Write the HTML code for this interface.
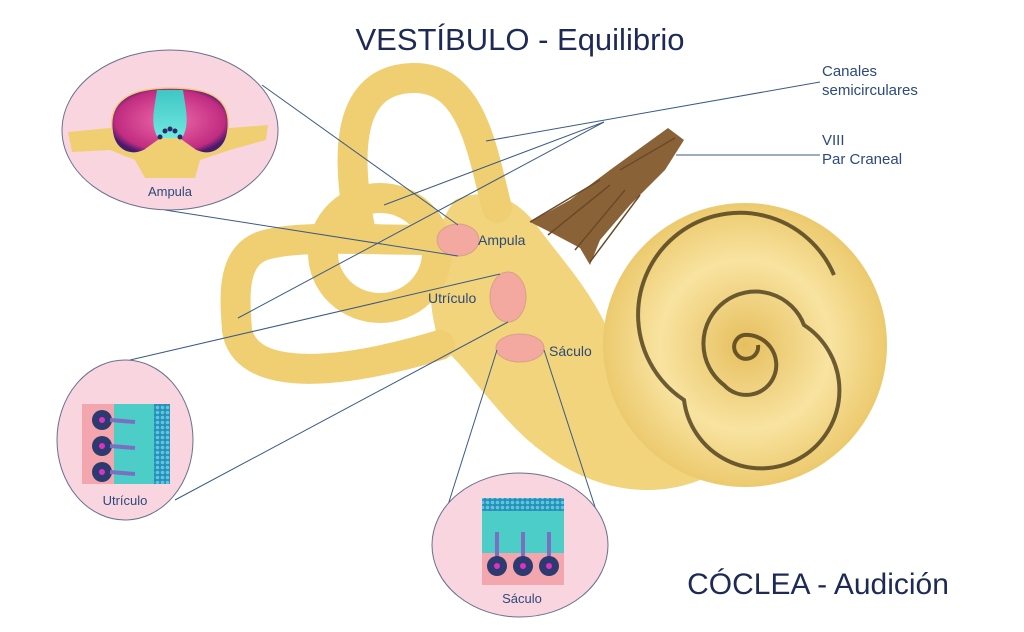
<!DOCTYPE html>
<html><head><meta charset="utf-8"><style>
html,body{margin:0;padding:0;background:#fff;}
svg{display:block}
text{font-family:"Liberation Sans",sans-serif;}
</style></head><body>
<svg width="1024" height="632" viewBox="0 0 1024 632" xmlns="http://www.w3.org/2000/svg">
<defs>
<radialGradient id="co" cx="50%" cy="50%" r="50%"><stop offset="0" stop-color="#e6bf5e"/><stop offset="0.6" stop-color="#f8e3a0"/><stop offset="1" stop-color="#ecca6e"/></radialGradient>
<radialGradient id="mg" cx="50%" cy="50%" r="55%"><stop offset="0.3" stop-color="#e0559c"/><stop offset="0.85" stop-color="#c02c80"/><stop offset="1" stop-color="#4a1a6a"/></radialGradient>
<linearGradient id="cy" x1="0" y1="0" x2="0" y2="1"><stop offset="0" stop-color="#3fc6c4"/><stop offset="1" stop-color="#6fe8e0"/></linearGradient>
<pattern id="dots" width="5" height="5" patternUnits="userSpaceOnUse"><rect width="5" height="5" fill="#2a8fb8"/><circle cx="2.5" cy="2.5" r="1.8" fill="#5cc8e0"/></pattern>
</defs>
<text x="520" y="50" text-anchor="middle" font-size="31" fill="#1c2a55">VESTÍBULO - Equilibrio</text>
<text x="818" y="594" text-anchor="middle" font-size="30" fill="#1c2a55">CÓCLEA - Audición</text>

<path d="M455 200 C490 185 520 200 540 230 C570 270 600 300 620 360 L700 480 C650 500 590 490 540 450 C500 420 470 370 440 345 C425 300 425 240 455 200Z" fill="#f2d47c"/>
<circle cx="745" cy="345" r="142" fill="url(#co)"/>
<path d="M758 345 a12 12 0 1 1 -14 -10 a30 30 0 1 1 -20 50 a52 52 0 1 1 80 -60 a78 78 0 1 1 -120 75 a102 102 0 1 1 150 -125" fill="none" stroke="#3e2f12" stroke-width="4" opacity="0.75"/>
<g fill="none" stroke="#f0cf72" stroke-linecap="round">
<path d="M440 240 C360 240 300 235 265 245 C230 255 235 300 237 330 C245 380 330 378 440 345" stroke-width="30"/>
<ellipse cx="380" cy="253" rx="57" ry="55" stroke-width="30"/>
<path d="M360 228 C345 150 348 80 412 78 C472 76 482 150 497 208" stroke-width="30"/>
</g>
<path d="M668 128 L684 140 L665 170 L630 205 L600 240 L590 265 L580 248 L565 240 L550 232 L530 222 L570 200 L610 170Z" fill="#8a6238"/>
<path d="M530 222 L600 180 M548 235 L610 185 M575 250 L625 190 M590 262 L640 195 M620 170 L675 138" stroke="#6b4a28" stroke-width="1.5" fill="none"/>
<ellipse cx="458" cy="240" rx="21" ry="16" fill="#f4a9a0" stroke="#d8a08a"/>
<ellipse cx="508" cy="297" rx="18" ry="25" fill="#f4a9a0" stroke="#d8a08a"/>
<ellipse cx="520" cy="348" rx="24" ry="14" fill="#f4a9a0" stroke="#d8a08a"/>
<g font-size="14" fill="#2c4a7a">
<text x="478" y="245">Ampula</text>
<text x="428" y="303">Utrículo</text>
<text x="549" y="356">Sáculo</text>
</g>
<g stroke="#3c5a86" stroke-width="1" fill="none">
<line x1="486" y1="141" x2="820" y2="82"/>
<line x1="604" y1="122" x2="384" y2="205"/>
<line x1="604" y1="122" x2="238" y2="318"/>
<line x1="676" y1="155" x2="820" y2="155"/>
<line x1="262" y1="85" x2="458" y2="225"/>
<line x1="165" y1="210" x2="458" y2="256"/>
<line x1="130" y1="360" x2="500" y2="274"/>
<line x1="175" y1="500" x2="508" y2="322"/>
<line x1="448" y1="505" x2="497" y2="350"/>
<line x1="596" y1="510" x2="544" y2="350"/>
</g>
<g font-size="15" fill="#2c4a7a">
<text x="822" y="76">Canales</text><text x="822" y="95">semicirculares</text>
<text x="822" y="145">VIII</text><text x="822" y="164">Par Craneal</text>
</g>
<ellipse cx="170" cy="130" rx="108" ry="80" fill="#f9d5df" stroke="#6a7090"/>
<path d="M68 132 L110 128 L230 128 L268 125 L266 140 L230 150 L200 160 L195 178 L145 178 L135 160 L110 150 L72 152Z" fill="#f0cf72"/>
<path d="M112 130 C108 95 140 88 170 88 C205 88 232 95 228 130 C226 150 210 158 195 150 L170 132 L145 150 C130 158 114 150 112 130Z" fill="url(#mg)" stroke="#e8d080" stroke-width="1.5"/>
<path d="M157 90 L183 90 C186 110 190 125 182 138 L158 138 C150 125 154 110 157 90Z" fill="url(#cy)"/>
<g fill="#2c2a6a"><circle cx="160" cy="137" r="2.5"/><circle cx="165" cy="131" r="2.5"/><circle cx="170" cy="129" r="2.5"/><circle cx="175" cy="131" r="2.5"/><circle cx="180" cy="137" r="2.5"/></g>
<text x="170" y="196" text-anchor="middle" font-size="13" fill="#2c4a7a">Ampula</text>
<ellipse cx="125" cy="440" rx="68" ry="80" fill="#f9d5df" stroke="#6a7090"/>
<rect x="82" y="404" width="34" height="80" fill="#f4a6ae"/>
<rect x="114" y="404" width="42" height="80" fill="#4ccdc8"/>
<rect x="154" y="404" width="16" height="80" fill="url(#dots)"/>
<g><circle cx="102" cy="420" r="10" fill="#2c3a70"/><circle cx="102" cy="446" r="10" fill="#2c3a70"/><circle cx="102" cy="472" r="10" fill="#2c3a70"/>
<circle cx="102" cy="420" r="3" fill="#e030c0"/><circle cx="102" cy="446" r="3" fill="#e030c0"/><circle cx="102" cy="472" r="3" fill="#e030c0"/></g>
<g stroke="#7a70c0" stroke-width="4"><line x1="110" y1="420" x2="135" y2="422"/><line x1="110" y1="446" x2="135" y2="448"/><line x1="110" y1="472" x2="135" y2="474"/></g>
<text x="125" y="505" text-anchor="middle" font-size="13" fill="#2c4a7a">Utrículo</text>
<ellipse cx="520" cy="545" rx="88" ry="72" fill="#f9d5df" stroke="#6a7090"/>
<rect x="482" y="510" width="82" height="44" fill="#4ccdc8"/>
<rect x="482" y="498" width="82" height="13" fill="url(#dots)"/>
<rect x="482" y="553" width="82" height="32" fill="#f4a6ae"/>
<g stroke="#7a70c0" stroke-width="4"><line x1="497" y1="532" x2="497" y2="558"/><line x1="523" y1="532" x2="523" y2="558"/><line x1="549" y1="532" x2="549" y2="558"/></g>
<g><circle cx="497" cy="566" r="10" fill="#2c3a70"/><circle cx="523" cy="566" r="10" fill="#2c3a70"/><circle cx="549" cy="566" r="10" fill="#2c3a70"/>
<circle cx="497" cy="566" r="3" fill="#e030c0"/><circle cx="523" cy="566" r="3" fill="#e030c0"/><circle cx="549" cy="566" r="3" fill="#e030c0"/></g>
<text x="522" y="603" text-anchor="middle" font-size="13" fill="#2c4a7a">Sáculo</text>
</svg>
</body></html>
